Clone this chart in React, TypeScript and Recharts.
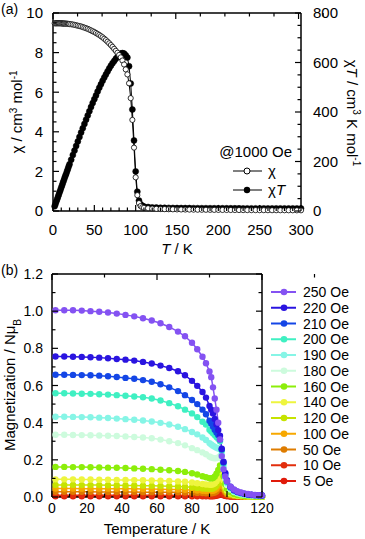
import React from "react";
import { ComposedChart, LineChart, Line, XAxis, YAxis, Legend } from "recharts";

const FONT = "'Liberation Sans', Arial, Helvetica, sans-serif";

// ---- panel (a): chi and chiT at 1000 Oe ----
const tempA = [
  2, 3, 4, 5, 6, 7, 8, 9, 10, 11, 12, 13, 14, 15, 16, 17, 18, 19, 20,
  22, 24, 26, 28, 30, 32, 34, 36, 38, 40, 42, 44, 46, 48, 50, 52, 54, 56, 58, 60,
  62, 64, 66, 68, 70, 72, 74, 76, 78, 80,
  82, 84, 86, 88, 90, 92, 94, 96, 98, 100, 102, 104, 106, 108, 110,
  115, 120, 125, 130, 135, 140, 145, 150, 155, 160, 165, 170, 175, 180, 185, 190, 195, 200,
  205, 210, 215, 220, 225, 230, 235, 240, 245, 250, 255, 260, 265, 270, 275, 280, 285, 290, 295, 300,
];
const chiA = [
  9.48, 9.48, 9.48, 9.48, 9.48, 9.48, 9.48, 9.48, 9.48, 9.47, 9.47, 9.47, 9.47, 9.46, 9.46, 9.46, 9.45, 9.45, 9.44,
  9.43, 9.42, 9.4, 9.38, 9.36, 9.34, 9.32, 9.29, 9.26, 9.23, 9.2, 9.16, 9.12, 9.08, 9.04, 8.99, 8.94, 8.89, 8.83, 8.77,
  8.7, 8.63, 8.55, 8.47, 8.38, 8.29, 8.19, 8.09, 7.99, 7.88,
  7.76, 7.6, 7.4, 7.15, 6.9, 6.45, 5.7, 4.6, 3.2, 1.7, 0.8, 0.4, 0.25, 0.19, 0.16,
  0.14, 0.12, 0.11, 0.1, 0.095, 0.09, 0.085, 0.08, 0.077, 0.074, 0.071, 0.068, 0.065, 0.063, 0.061, 0.059, 0.057, 0.055,
  0.053, 0.052, 0.05, 0.049, 0.048, 0.046, 0.045, 0.044, 0.043, 0.042, 0.041, 0.04, 0.039, 0.039, 0.038, 0.037, 0.036, 0.036, 0.035, 0.035,
];
const chiTA = [
  19, 28, 38, 47, 57, 66, 76, 85, 95, 104, 114, 123, 133, 142, 151, 161, 170, 180, 189,
  207, 226, 244, 263, 281, 299, 317, 334, 352, 369, 386, 403, 420, 436, 452, 467, 483, 498, 512, 526,
  539, 552, 564, 576, 587, 597, 606, 615, 623, 630,
  636, 638, 636, 629, 620, 585, 515, 410, 285, 160, 78, 42, 27, 21, 18,
  16, 14.4, 13.8, 13, 12.8, 12.6, 12.3, 12, 11.9, 11.8, 11.7, 11.6, 11.4, 11.3, 11.3, 11.2, 11.1, 11,
  10.9, 10.9, 10.8, 10.8, 10.8, 10.6, 10.6, 10.6, 10.5, 10.5, 10.5, 10.4, 10.3, 10.5, 10.5, 10.4, 10.3, 10.4, 10.3, 10.5,
];
const xTicksA = [0, 10, 20, 30, 40, 50, 60, 70, 80, 90, 100, 110, 120, 130, 140, 150, 160, 170, 180, 190, 200,
  210, 220, 230, 240, 250, 260, 270, 280, 290, 300];
const yTicksA = [0, 0.5, 1, 1.5, 2, 2.5, 3, 3.5, 4, 4.5, 5, 5.5, 6, 6.5, 7, 7.5, 8, 8.5, 9, 9.5, 10];
const yTicksRightA = [0, 50, 100, 150, 200, 250, 300, 350, 400, 450, 500, 550, 600, 650, 700, 750, 800];

// ---- panel (b): magnetization vs temperature at several fields ----
const tempB = [2, 7, 12, 17, 22, 27, 32, 37, 42, 47, 52, 57, 62, 67, 72, 76, 80, 83, 86, 88,
  90, 91, 92, 93, 94, 95, 96, 97, 98, 99, 100, 102, 104, 106, 108, 110, 112, 114, 116, 118, 120];
const m250 = [1.005, 1.005, 1.005, 1.003, 1.0, 0.997, 0.993, 0.987, 0.98, 0.972, 0.962, 0.95, 0.935, 0.915, 0.89, 0.865, 0.83, 0.795, 0.755, 0.72,
  0.675, 0.645, 0.59, 0.53, 0.47, 0.4, 0.31, 0.22, 0.15, 0.11, 0.085, 0.055, 0.04, 0.03, 0.024, 0.019, 0.016, 0.013, 0.011, 0.01, 0.009];
const m220 = [0.756, 0.756, 0.755, 0.754, 0.752, 0.75, 0.747, 0.743, 0.739, 0.734, 0.727, 0.718, 0.707, 0.694, 0.677, 0.655, 0.625, 0.598, 0.565, 0.535,
  0.49, 0.47, 0.45, 0.42, 0.39, 0.36, 0.33, 0.26, 0.19, 0.13, 0.09, 0.055, 0.038, 0.028, 0.022, 0.017, 0.014, 0.012, 0.01, 0.009, 0.008];
const m210 = [0.658, 0.658, 0.657, 0.656, 0.655, 0.653, 0.65, 0.646, 0.641, 0.636, 0.629, 0.62, 0.607, 0.59, 0.57, 0.548, 0.522, 0.5, 0.47, 0.445,
  0.41, 0.395, 0.38, 0.362, 0.347, 0.333, 0.31, 0.255, 0.185, 0.125, 0.085, 0.052, 0.036, 0.027, 0.021, 0.016, 0.013, 0.011, 0.01, 0.009, 0.008];
const m200 = [0.558, 0.558, 0.557, 0.556, 0.555, 0.553, 0.551, 0.548, 0.545, 0.541, 0.537, 0.53, 0.519, 0.505, 0.488, 0.47, 0.45, 0.43, 0.405, 0.39,
  0.362, 0.352, 0.343, 0.333, 0.323, 0.313, 0.3, 0.25, 0.18, 0.12, 0.08, 0.05, 0.034, 0.026, 0.02, 0.016, 0.013, 0.011, 0.01, 0.009, 0.008];
const m190 = [0.432, 0.432, 0.431, 0.43, 0.429, 0.427, 0.425, 0.422, 0.419, 0.416, 0.412, 0.406, 0.399, 0.39, 0.378, 0.365, 0.35, 0.337, 0.32, 0.307,
  0.29, 0.283, 0.276, 0.27, 0.265, 0.261, 0.258, 0.23, 0.165, 0.11, 0.075, 0.045, 0.03, 0.022, 0.017, 0.013, 0.011, 0.009, 0.008, 0.007, 0.006];
const m180 = [0.335, 0.335, 0.334, 0.333, 0.332, 0.331, 0.33, 0.328, 0.326, 0.323, 0.32, 0.316, 0.309, 0.3, 0.29, 0.278, 0.263, 0.252, 0.24, 0.23,
  0.218, 0.213, 0.21, 0.208, 0.209, 0.213, 0.22, 0.205, 0.15, 0.1, 0.065, 0.04, 0.027, 0.02, 0.015, 0.012, 0.01, 0.008, 0.007, 0.006, 0.005];
const m160 = [0.162, 0.162, 0.161, 0.161, 0.16, 0.159, 0.158, 0.157, 0.156, 0.154, 0.152, 0.15, 0.147, 0.144, 0.14, 0.135, 0.128, 0.121, 0.112, 0.106,
  0.101, 0.1, 0.102, 0.11, 0.125, 0.145, 0.17, 0.165, 0.11, 0.07, 0.045, 0.025, 0.016, 0.011, 0.008, 0.006, 0.005, 0.004, 0.003, 0.003, 0.002];
const m140 = [0.095, 0.095, 0.095, 0.094, 0.094, 0.093, 0.093, 0.092, 0.092, 0.091, 0.09, 0.089, 0.088, 0.086, 0.084, 0.082, 0.078, 0.074, 0.07, 0.067,
  0.066, 0.066, 0.068, 0.074, 0.085, 0.1, 0.13, 0.125, 0.09, 0.055, 0.035, 0.02, 0.012, 0.008, 0.006, 0.005, 0.004, 0.003, 0.003, 0.002, 0.002];
const m120 = [0.065, 0.065, 0.065, 0.064, 0.064, 0.064, 0.063, 0.063, 0.062, 0.062, 0.061, 0.06, 0.059, 0.058, 0.057, 0.055, 0.052, 0.049, 0.046, 0.045,
  0.044, 0.044, 0.046, 0.051, 0.06, 0.075, 0.105, 0.1, 0.07, 0.045, 0.028, 0.016, 0.01, 0.007, 0.005, 0.004, 0.003, 0.003, 0.002, 0.002, 0.002];
const m100 = [0.046, 0.046, 0.046, 0.045, 0.045, 0.045, 0.045, 0.044, 0.044, 0.044, 0.043, 0.043, 0.042, 0.041, 0.04, 0.039, 0.037, 0.035, 0.033, 0.032,
  0.031, 0.032, 0.033, 0.037, 0.044, 0.058, 0.085, 0.08, 0.055, 0.035, 0.022, 0.012, 0.008, 0.005, 0.004, 0.003, 0.002, 0.002, 0.002, 0.001, 0.001];
const m50 = [0.028, 0.028, 0.028, 0.028, 0.028, 0.027, 0.027, 0.027, 0.027, 0.027, 0.026, 0.026, 0.026, 0.025, 0.025, 0.024, 0.023, 0.022, 0.021, 0.02,
  0.02, 0.02, 0.021, 0.024, 0.03, 0.042, 0.062, 0.058, 0.04, 0.025, 0.015, 0.008, 0.005, 0.004, 0.003, 0.002, 0.002, 0.001, 0.001, 0.001, 0.001];
const m10 = [0.009, 0.009, 0.009, 0.009, 0.009, 0.009, 0.009, 0.009, 0.009, 0.009, 0.009, 0.009, 0.009, 0.008, 0.008, 0.008, 0.008, 0.008, 0.007, 0.007,
  0.007, 0.007, 0.008, 0.009, 0.012, 0.018, 0.03, 0.028, 0.018, 0.011, 0.007, 0.004, 0.003, 0.002, 0.001, 0.001, 0.001, 0.001, 0.001, 0.001, 0.001];
const m5 = [0.004, 0.004, 0.004, 0.004, 0.004, 0.004, 0.004, 0.004, 0.004, 0.004, 0.004, 0.004, 0.004, 0.004, 0.004, 0.004, 0.004, 0.004, 0.004, 0.004,
  0.004, 0.004, 0.004, 0.005, 0.007, 0.01, 0.017, 0.016, 0.01, 0.006, 0.004, 0.002, 0.002, 0.001, 0.001, 0.001, 0.001, 0.001, 0.001, 0.001, 0.001];

const fields = ["250 Oe", "220 Oe", "210 Oe", "200 Oe", "190 Oe", "180 Oe", "160 Oe", "140 Oe", "120 Oe", "100 Oe", "50 Oe", "10 Oe", "5 Oe"];
const fieldColors = ["#8452f2", "#2a14e0", "#1446e6", "#3ff0c2", "#86f5e6", "#cdfbdd", "#8cee0a", "#eef53e", "#c6e300", "#f7a800", "#de7c00", "#e22e0c", "#e01a0a"];
const fieldValues = [m250, m220, m210, m200, m190, m180, m160, m140, m120, m100, m50, m10, m5];
const xTicksB = [0, 10, 20, 30, 40, 50, 60, 70, 80, 90, 100, 110, 120];
const yTicksB = [0, 0.1, 0.2, 0.3, 0.4, 0.5, 0.6, 0.7, 0.8, 0.9, 1.0, 1.1, 1.2];

const dataA = tempA.map((t, i) => ({ t, chi: chiA[i], chiT: chiTA[i] }));
const dataB = tempB.map((t, i) => {
  const row: Record<string, number> = { t };
  fields.forEach((f, k) => { row[f] = fieldValues[k][i]; });
  return row;
});

type Side = "bottom" | "top" | "left" | "right";

// inward ticks, labels only on majors
const tickRenderer = (side: Side, majorStep: number, fmt: ((v: number) => string) | null, size: number, gap: number) =>
  (props: any) => {
    const { x, y, payload } = props;
    const v = Number(payload.value);
    const major = Math.abs(v / majorStep - Math.round(v / majorStep)) < 1e-6;
    const len = major ? 6 : 3.5;
    const txt = major && fmt ? fmt(v) : null;
    let line = null;
    let label = null;
    if (side === "bottom") {
      line = <line x1={x} y1={y} x2={x} y2={y - len} stroke="#000" strokeWidth={1.2} />;
      if (txt) label = <text x={x} y={y + gap} textAnchor="middle" fontSize={size} fontFamily={FONT} fill="#000">{txt}</text>;
    } else if (side === "top") {
      line = <line x1={x} y1={y} x2={x} y2={y + len} stroke="#000" strokeWidth={1.2} />;
    } else if (side === "left") {
      line = <line x1={x} y1={y} x2={x + len} y2={y} stroke="#000" strokeWidth={1.2} />;
      if (txt) label = <text x={x - gap} y={y + size * 0.36} textAnchor="end" fontSize={size} fontFamily={FONT} fill="#000">{txt}</text>;
    } else {
      line = <line x1={x} y1={y} x2={x - len} y2={y} stroke="#000" strokeWidth={1.2} />;
      if (txt) label = <text x={x + gap} y={y + size * 0.36} textAnchor="start" fontSize={size} fontFamily={FONT} fill="#000">{txt}</text>;
    }
    return <g>{line}{label}</g>;
  };

const axisLine = { stroke: "#000", strokeWidth: 1.5 };

const LegendA = () => (
  <svg width={90} height={62} style={{ overflow: "visible", display: "block" }}>
    <text x={77} y={19} textAnchor="end" fontSize={15} fontFamily={FONT}>@1000 Oe</text>
    <line x1={18} x2={47} y1={33} y2={33} stroke="#000" strokeWidth={1} />
    <circle cx={32} cy={33} r={3} fill="#fff" stroke="#000" strokeWidth={1} />
    <text x={53} y={38} fontSize={15} fontFamily={FONT}>χ</text>
    <line x1={18} x2={47} y1={52} y2={52} stroke="#000" strokeWidth={1} />
    <circle cx={32} cy={52} r={3.2} fill="#000" />
    <text x={53} y={57} fontSize={15} fontFamily={FONT}>χ<tspan fontStyle="italic">T</tspan></text>
  </svg>
);

const LegendB = () => (
  <svg width={95} height={210} style={{ overflow: "visible", display: "block" }}>
    {fields.map((f, i) => {
      const cy = 8 + i * 15.75;
      return (
        <g key={f}>
          <line x1={5} x2={30} y1={cy} y2={cy} stroke={fieldColors[i]} strokeWidth={2} />
          <circle cx={18} cy={cy} r={3.3} fill={fieldColors[i]} />
          <text x={37} y={cy + 5} fontSize={14} fontFamily={FONT} fill="#000">{f}</text>
        </g>
      );
    })}
  </svg>
);

const Sup = ({ children }: { children: React.ReactNode }) => (
  <tspan fontSize={10} baselineShift="super">{children}</tspan>
);

const supStyle: React.CSSProperties = { fontSize: 10, lineHeight: 0, verticalAlign: "6px" };

// axis titles and panel letters
const Titles = () => (
  <>
    <svg width={365} height={539} style={{ position: "absolute", left: 0, top: 0, pointerEvents: "none", zIndex: 5 }}>
      {/* keep the strip right of the top "800" label clean */}
      <rect x={345} y={3} width={20} height={19} fill="#fff" />
      <g fontFamily={FONT} fill="#000">
        <text x={1} y={14} fontSize={14}>(a)</text>
        <text x={1} y={275} fontSize={14}>(b)</text>
        <text x={177} y={254} textAnchor="middle" fontSize={15}>
          <tspan fontStyle="italic">T</tspan> / K
        </text>
        <g transform="translate(22, 112) rotate(-90)">
          <text x={0} y={0} textAnchor="middle" fontSize={15}>
            χ / cm<Sup>3</Sup> mol<Sup>-1</Sup>
          </text>
        </g>
        <text x={157} y={534} textAnchor="middle" fontSize={15}>Temperature / K</text>
        <g transform="translate(15, 385) rotate(-90)">
          <text x={0} y={0} textAnchor="middle" fontSize={15}>
            Magnetization / Nμ<tspan fontSize={10} baselineShift="sub">B</tspan>
          </text>
        </g>
      </g>
    </svg>
    <div style={{
      position: "absolute", left: 352, top: 113, transform: "translate(-50%, -50%) rotate(90deg)", zIndex: 6,
      whiteSpace: "nowrap", fontSize: 15, lineHeight: "18px", fontFamily: FONT, color: "#000",
    }}>
      χ<i>T</i> / cm<span style={supStyle}>3</span> K mol<span style={supStyle}>-1</span>
    </div>
  </>
);

export default function App() {
  return (
    <div style={{ position: "absolute", left: 0, top: 0, width: 365, height: 539, background: "#fff", fontFamily: FONT }}>
      <div style={{ position: "absolute", left: 0, top: 0 }}>
        <ComposedChart width={365} height={255} data={dataA} margin={{ top: 12, right: 0, bottom: 0, left: 0 }}>
          <XAxis xAxisId="b" dataKey="t" type="number" domain={[0, 300]} ticks={xTicksA} interval={0}
            height={44} tickSize={0} tickMargin={0} axisLine={axisLine} tickLine={false}
            tick={tickRenderer("bottom", 50, (v) => String(v), 15, 24)} />
          <XAxis xAxisId="t" orientation="top" type="number" domain={[0, 300]} ticks={xTicksA} interval={0}
            height={1} tickSize={0} tickMargin={0} axisLine={axisLine} tickLine={false} allowDataOverflow
            tick={tickRenderer("top", 50, null, 15, 0)} />
          <YAxis yAxisId="l" type="number" domain={[0, 10]} ticks={yTicksA} interval={0}
            width={53} tickSize={0} tickMargin={0} axisLine={axisLine} tickLine={false}
            tick={tickRenderer("left", 2, (v) => String(v), 15, 10)} />
          <YAxis yAxisId="r" orientation="right" type="number" domain={[0, 800]} ticks={yTicksRightA} interval={0}
            width={64} tickSize={0} tickMargin={0} axisLine={axisLine} tickLine={false}
            tick={tickRenderer("right", 200, (v) => String(v), 15, 12)} />
          <Line xAxisId="b" yAxisId="r" dataKey="chiT" type="linear" stroke="#000" strokeWidth={1}
            dot={{ r: 3, fill: "#000", stroke: "#000", strokeWidth: 0.5 }} activeDot={false} isAnimationActive={false} />
          <Line xAxisId="b" yAxisId="l" dataKey="chi" type="linear" stroke="#000" strokeWidth={1}
            dot={{ r: 2.6, fill: "#fff", stroke: "#000", strokeWidth: 0.8 }} activeDot={false} isAnimationActive={false} />
          <Legend layout="vertical" align="center" verticalAlign="middle"
            wrapperStyle={{ left: 215, top: 138, width: 90, height: 62 }} content={() => <LegendA />} />
        </ComposedChart>
      </div>

      <div style={{ position: "absolute", left: 0, top: 255 }}>
        <LineChart width={365} height={284} data={dataB} margin={{ top: 18, right: 102, bottom: 0, left: 0 }}>
          <XAxis xAxisId="b" dataKey="t" type="number" domain={[0, 120]} ticks={xTicksB} interval={0}
            height={42} tickSize={0} tickMargin={0} axisLine={axisLine} tickLine={false}
            tick={tickRenderer("bottom", 20, (v) => String(v), 14, 16)} />
          <XAxis xAxisId="t" orientation="top" type="number" domain={[0, 120]} ticks={xTicksB} interval={0}
            height={1} tickSize={0} tickMargin={0} axisLine={axisLine} tickLine={false} allowDataOverflow
            tick={tickRenderer("top", 20, null, 14, 0)} />
          <YAxis yAxisId="l" type="number" domain={[0, 1.2]} ticks={yTicksB} interval={0}
            width={52} tickSize={0} tickMargin={0} axisLine={axisLine} tickLine={false}
            tick={tickRenderer("left", 0.2, (v) => v.toFixed(1), 14, 9)} />
          <YAxis yAxisId="r" orientation="right" type="number" domain={[0, 1.2]} ticks={yTicksB} interval={0}
            width={1} tickSize={0} tickMargin={0} axisLine={axisLine} tickLine={false} allowDataOverflow
            tick={tickRenderer("right", 0.2, null, 14, 0)} />
          {fields.map((f, i) => ({ f, i })).reverse().map(({ f, i }) => (
            <Line key={f} xAxisId="b" yAxisId="l" dataKey={f} type="linear" stroke={fieldColors[i]} strokeWidth={1.5}
              dot={{ r: 3.2, fill: fieldColors[i], stroke: fieldColors[i], strokeWidth: 0 }}
              activeDot={false} isAnimationActive={false} />
          ))}
          <Legend layout="vertical" align="center" verticalAlign="middle"
            wrapperStyle={{ left: 266, top: 29, width: 95, height: 210 }} content={() => <LegendB />} />
        </LineChart>
      </div>

      <Titles />
    </div>
  );
}
